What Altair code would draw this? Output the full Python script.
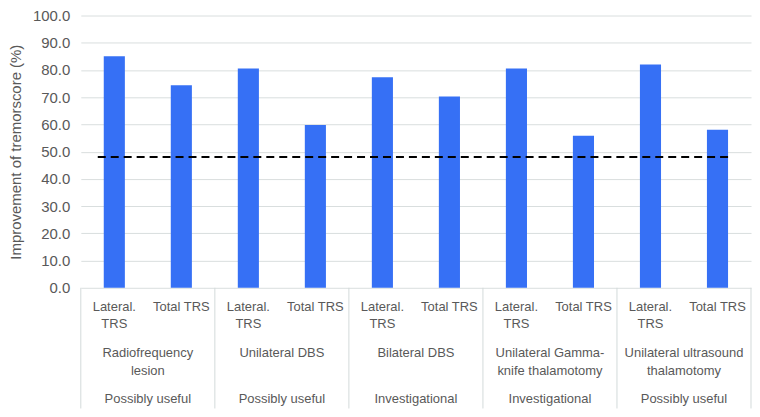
import altair as alt
import pandas as pd

# ---- data ----
group_names = ["Radiofrequency\nlesion", "Unilateral DBS", "Bilateral DBS",
               "Unilateral Gamma-\nknife thalamotomy", "Unilateral ultrasound\nthalamotomy"]
classes = ["Possibly useful", "Possibly useful", "Investigational",
           "Investigational", "Possibly useful"]
bar_labels = ["Lateral.\nTRS", "Total TRS"]
lateral_vals = [85.0, 80.5, 77.3, 80.5, 82.0]
total_vals = [74.4, 59.8, 70.3, 55.8, 58.0]
threshold = [48.0]
y_ticks = [0, 10, 20, 30, 40, 50, 60, 70, 80, 90, 100]

# ---- tables ----
rows = []
cats = []
for i in range(len(group_names)):
    for j, vals in enumerate([lateral_vals, total_vals]):
        c = f"{i}-{j}"
        cats.append(c)
        rows.append({"cat": c, "value": vals[i], "label": bar_labels[j]})
bars_df = pd.DataFrame(rows)
groups_df = pd.DataFrame({
    "cat": [f"{i}-0" for i in range(len(group_names))],
    "group": group_names,
    "cls": classes,
})
end_df = pd.DataFrame({"cat": [cats[-1]]})
thr_df = pd.DataFrame({"value": threshold})

W = 672
H = 273
TXT = "#595959"
FONT = "Liberation Sans"

xscale = alt.Scale(domain=cats, paddingInner=0, paddingOuter=0)
yscale = alt.Scale(domain=[0, 100], nice=False)
yaxis = alt.Axis(values=y_ticks, tickCount=11, format=".1f",
                 title="Improvement of tremorscore (%)",
                 grid=True, gridColor="#d9dede", domain=False, ticks=False,
                 labelOverlap=False,
                 labelPadding=11, labelFontSize=15, labelColor=TXT, labelFont=FONT,
                 titleFontSize=15, titleColor=TXT, titleFont=FONT,
                 titleFontWeight="normal", titlePadding=9)

bars = alt.Chart(bars_df).mark_bar(color="#3670F5", width={"band": 0.315}).encode(
    x=alt.X("cat:N", scale=xscale, axis=None, sort=cats),
    y=alt.Y("value:Q", scale=yscale, axis=yaxis),
)

thr = alt.Chart(thr_df).mark_rule(color="black", strokeWidth=2, strokeDash=[8, 5]).encode(
    y=alt.Y("value:Q", scale=yscale, axis=yaxis),
    x=alt.value(17),
    x2=alt.value(653),
)

bar_text = alt.Chart(bars_df).mark_text(
    fontSize=13, font=FONT, color=TXT, baseline="top", align="center",
    lineBreak="\n", lineHeight=17.5,
).encode(
    x=alt.X("cat:N", scale=xscale, sort=cats, axis=None),
    y=alt.value(H + 13),
    text="label:N",
)

group_text = alt.Chart(groups_df).mark_text(
    fontSize=13, font=FONT, color=TXT, baseline="top", align="center",
    lineBreak="\n", lineHeight=18,
).encode(
    x=alt.X("cat:N", scale=xscale, sort=cats, bandPosition=1, axis=None),
    y=alt.value(H + 59),
    text="group:N",
)

class_text = alt.Chart(groups_df).mark_text(
    fontSize=13, font=FONT, color=TXT, baseline="top", align="center",
).encode(
    x=alt.X("cat:N", scale=xscale, sort=cats, bandPosition=1, axis=None),
    y=alt.value(H + 106),
    text="cls:N",
)

seps = alt.Chart(groups_df).mark_rule(color="#d3dada", strokeWidth=1).encode(
    x=alt.X("cat:N", scale=xscale, sort=cats, bandPosition=0, axis=None),
    y=alt.value(H),
    y2=alt.value(H + 121),
)
end_sep = alt.Chart(end_df).mark_rule(color="#d3dada", strokeWidth=1).encode(
    x=alt.X("cat:N", scale=xscale, sort=cats, bandPosition=1, axis=None),
    y=alt.value(H),
    y2=alt.value(H + 121),
)

chart = alt.layer(bars, thr, bar_text, group_text, class_text, seps, end_sep).properties(
    width=W, height=H, padding={"left": 0, "top": 0, "right": 0, "bottom": 0}
).configure_view(stroke=None)

chart.save("out.html", embed_options={"renderer": "svg", "actions": False})
